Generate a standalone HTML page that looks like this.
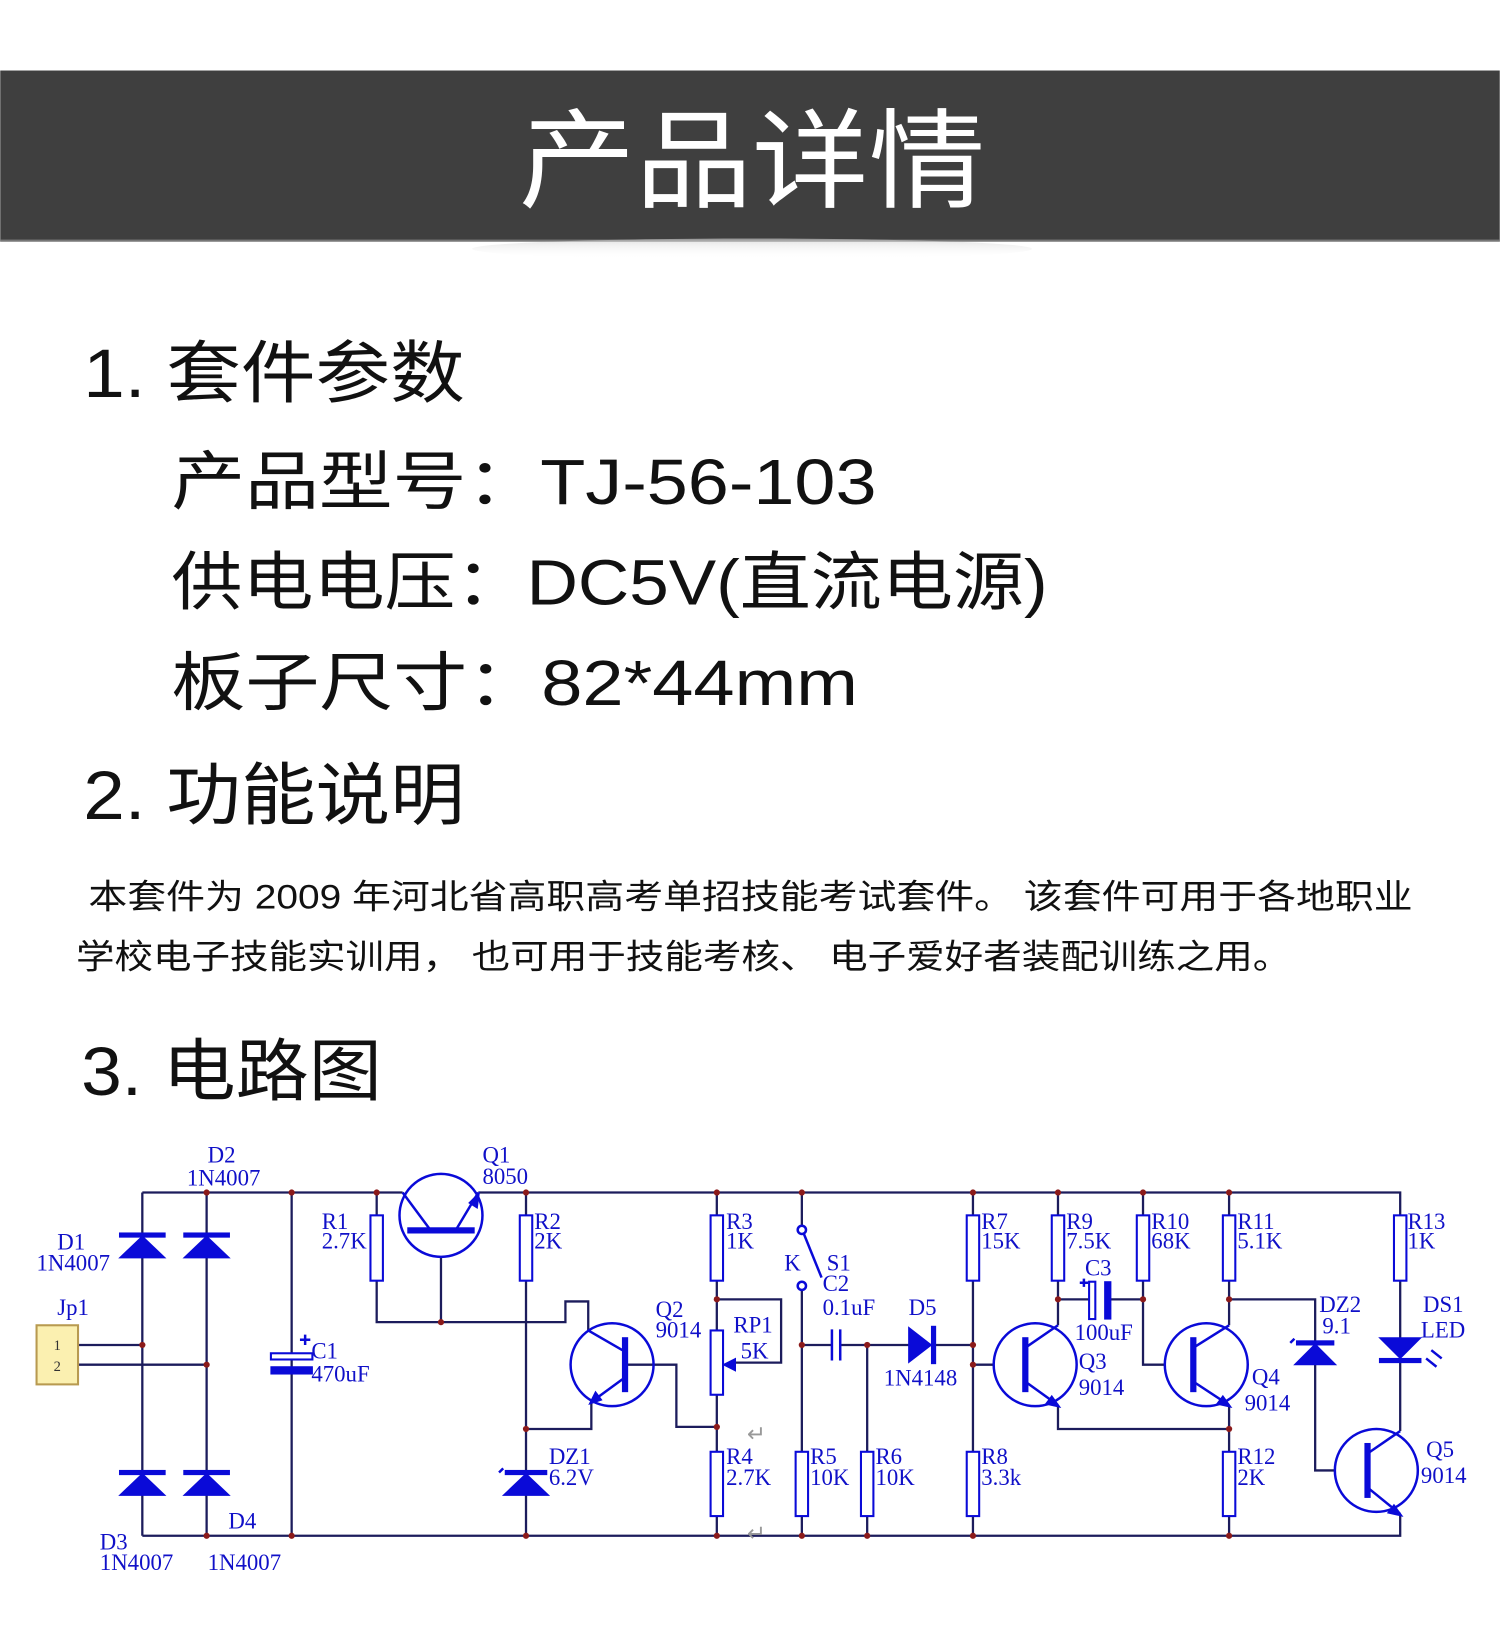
<!DOCTYPE html>
<html><head><meta charset="utf-8"><style>
html,body{margin:0;padding:0;background:#fff;}
svg{display:block;}
.cn{font-family:"Liberation Sans","Noto Sans CJK SC",sans-serif;}
.lb{font-family:"Liberation Serif",serif;font-size:22px;fill:#1010c8;}
.w{stroke:#1c1c5c;stroke-width:2.2;fill:none;}
.c{stroke:#0a0ad8;stroke-width:2.4;fill:none;}
.r{stroke:#0a0ad8;stroke-width:2;fill:#fff;}
.f{fill:#0a0ad8;stroke:#0a0ad8;}
.d{fill:#8b1a1a;}
</style></head><body>
<svg width="1500" height="1626" viewBox="0 0 1446 1568" xmlns="http://www.w3.org/2000/svg">
<defs>
<linearGradient id="sh" x1="0" y1="0" x2="0" y2="1"><stop offset="0" stop-color="#ccc"/><stop offset="1" stop-color="#fff" stop-opacity="0"/></linearGradient>
</defs>
<rect x="0" y="68" width="1446" height="165" fill="#3f3f3f"/>
<rect x="0" y="231" width="1446" height="2" fill="#777"/>
<ellipse cx="725" cy="240" rx="270" ry="10" fill="url(#sh)" opacity="0.6"/>
<text x="500" y="192" class="cn" font-size="104" fill="#fff" textLength="450" lengthAdjust="spacingAndGlyphs">产品详情</text>

<g class="cn" fill="#111">
<text x="80" y="383" font-size="66" textLength="368" lengthAdjust="spacingAndGlyphs">1. 套件参数</text>
<text x="165" y="486" font-size="62" textLength="680" lengthAdjust="spacingAndGlyphs">产品型号：TJ-56-103</text>
<text x="165" y="583" font-size="62" textLength="845" lengthAdjust="spacingAndGlyphs">供电电压：DC5V(直流电源)</text>
<text x="165" y="680" font-size="62" textLength="662" lengthAdjust="spacingAndGlyphs">板子尺寸：82*44mm</text>
<text x="80" y="790" font-size="66" textLength="368" lengthAdjust="spacingAndGlyphs">2. 功能说明</text>
<text x="85" y="876" font-size="33" textLength="1277" lengthAdjust="spacingAndGlyphs">本套件为 2009 年河北省高职高考单招技能考试套件。 该套件可用于各地职业</text>
<text x="73" y="934" font-size="33" textLength="1172" lengthAdjust="spacingAndGlyphs">学校电子技能实训用， 也可用于技能考核、 电子爱好者装配训练之用。</text>
<text x="78" y="1056" font-size="66" textLength="290" lengthAdjust="spacingAndGlyphs">3. 电路图</text>
</g>

<!-- wires -->
<g class="w">
<path d="M137 1150H388 M461 1150H1350V1172 M137 1481H1350V1460"/>
<path d="M137 1150V1481 M199 1150V1481 M281 1150V1481"/>
<path d="M75 1297H137 M75 1316H199"/>
<path d="M363 1150V1275H545V1255H567V1283 M425 1212V1275"/>
<path d="M507 1150V1481 M507 1378H570V1352"/>
<path d="M602 1316H652V1376H691 M691 1150V1481 M691 1253H753V1314H705"/>
<path d="M773 1150V1182 M773 1244V1481 M773 1297H802 M810 1297H836V1481 M836 1297H938 M938 1150V1481 M938 1316H958"/>
<path d="M1020 1150V1278 M1020 1253H1052 M1068 1253H1102 M1102 1150V1316H1123"/>
<path d="M1020 1355V1378H1185 M1185 1150V1278 M1185 1355V1481 M1185 1253H1268V1418H1288"/>
<path d="M1350 1172V1380"/>
</g>

<!-- resistors -->
<g class="r">
<rect x="357" y="1172" width="12" height="63"/>
<rect x="501" y="1172" width="12" height="63"/>
<rect x="685" y="1172" width="12" height="63"/>
<rect x="685" y="1283" width="12" height="62"/>
<rect x="685" y="1400" width="12" height="62"/>
<rect x="767" y="1400" width="12" height="62"/>
<rect x="830" y="1400" width="12" height="62"/>
<rect x="932" y="1172" width="12" height="63"/>
<rect x="932" y="1400" width="12" height="62"/>
<rect x="1014" y="1172" width="12" height="63"/>
<rect x="1096" y="1172" width="12" height="63"/>
<rect x="1179" y="1172" width="12" height="63"/>
<rect x="1179" y="1400" width="12" height="62"/>
<rect x="1344" y="1172" width="12" height="63"/>
</g>

<!-- JP1 -->
<rect x="35" y="1278" width="40" height="57" fill="#fbf0b0" stroke="#b89a50" stroke-width="2"/>
<text x="55" y="1302" font-family="Liberation Serif" font-size="14" text-anchor="middle" fill="#333">1</text>
<text x="55" y="1322" font-family="Liberation Serif" font-size="14" text-anchor="middle" fill="#333">2</text>

<!-- diodes -->
<g class="f">
<polygon points="115,1213 159,1213 137,1192"/><rect x="115" y="1189" width="44" height="4"/>
<polygon points="177,1213 221,1213 199,1192"/><rect x="177" y="1189" width="44" height="4"/>
<polygon points="115,1442 159,1442 137,1421"/><rect x="115" y="1418" width="44" height="4"/>
<polygon points="177,1442 221,1442 199,1421"/><rect x="177" y="1418" width="44" height="4"/>
<polygon points="485,1442 529,1442 507,1421"/><rect x="487" y="1418" width="40" height="4"/>
<polygon points="876,1280 876,1314 898,1297"/><rect x="898" y="1279" width="4" height="36"/>
<polygon points="1248,1316 1288,1316 1268,1296"/><rect x="1250" y="1293" width="36" height="4"/>
<polygon points="1330,1290 1370,1290 1350,1310"/><rect x="1330" y="1310" width="40" height="4"/>
<!-- caps -->
<rect x="261" y="1318" width="40" height="7"/>
<rect x="1065" y="1236" width="6" height="36"/>
</g>
<rect x="261" y="1305" width="40" height="6" fill="#fff" stroke="#0a0ad8" stroke-width="2"/>
<rect x="1050" y="1236" width="6" height="36" fill="#fff" stroke="#0a0ad8" stroke-width="2"/>
<g class="c">
<path d="M802 1282V1312 M810 1282V1312"/>
<path d="M485 1416l-4 4 M1248 1291l-4 4"/>
<path d="M1375 1310l10 8 M1380 1302l10 8"/>
<path d="M294 1297v-10 M289 1292h10 M1045 1241v-8 M1041 1237h8"/>
<circle cx="773" cy="1186" r="4" fill="#fff"/>
<circle cx="773" cy="1240" r="4" fill="#fff"/>
<path d="M775 1190L792 1232"/>
</g>
<!-- RP1 wiper arrow -->
<polygon points="697,1316 709,1310 709,1322" class="f"/>

<!-- transistors -->
<g class="c">
<circle cx="425" cy="1172" r="40"/>
<path d="M388 1150L414 1185 M440 1185L461 1150"/>
<circle cx="590" cy="1316" r="40"/>
<path d="M567 1283L600 1302 M600 1330L570 1352"/>
<circle cx="998" cy="1316" r="40"/>
<path d="M988 1300L1020 1278 M988 1332L1020 1355"/>
<circle cx="1163" cy="1316" r="40"/>
<path d="M1150 1300L1185 1278 M1150 1332L1185 1355"/>
<circle cx="1327" cy="1418" r="40"/>
<path d="M1318 1402L1350 1380 M1318 1434L1350 1460"/>
</g>
<g class="f">
<rect x="393" y="1184" width="64" height="5"/>
<rect x="600" y="1290" width="5" height="52"/>
<rect x="986" y="1290" width="5" height="52"/>
<rect x="1148" y="1290" width="5" height="52"/>
<rect x="1316" y="1392" width="5" height="52"/>
<polygon points="462,1150 452,1160 460,1165"/>
<polygon points="568,1354 574,1342 580,1350"/>
<polygon points="1022,1357 1008,1354 1014,1346"/>
<polygon points="1187,1357 1173,1354 1179,1346"/>
<polygon points="1352,1462 1338,1459 1344,1451"/>
</g>

<!-- dots -->
<g class="d">
<circle cx="199" cy="1150" r="3"/><circle cx="281" cy="1150" r="3"/><circle cx="363" cy="1150" r="3"/><circle cx="507" cy="1150" r="3"/><circle cx="691" cy="1150" r="3"/><circle cx="773" cy="1150" r="3"/><circle cx="938" cy="1150" r="3"/><circle cx="1020" cy="1150" r="3"/><circle cx="1102" cy="1150" r="3"/><circle cx="1185" cy="1150" r="3"/>
<circle cx="137" cy="1297" r="3"/><circle cx="199" cy="1316" r="3"/><circle cx="425" cy="1275" r="3"/><circle cx="507" cy="1378" r="3"/><circle cx="691" cy="1253" r="3"/><circle cx="691" cy="1376" r="3"/><circle cx="773" cy="1297" r="3"/><circle cx="836" cy="1297" r="3"/><circle cx="938" cy="1297" r="3"/><circle cx="938" cy="1316" r="3"/><circle cx="1020" cy="1253" r="3"/><circle cx="1102" cy="1253" r="3"/><circle cx="1185" cy="1253" r="3"/><circle cx="1185" cy="1378" r="3"/>
<circle cx="199" cy="1481" r="3"/><circle cx="281" cy="1481" r="3"/><circle cx="507" cy="1481" r="3"/><circle cx="691" cy="1481" r="3"/><circle cx="773" cy="1481" r="3"/><circle cx="836" cy="1481" r="3"/><circle cx="938" cy="1481" r="3"/><circle cx="1185" cy="1481" r="3"/>
</g>

<text x="720" y="1390" font-size="22" fill="#999" font-family="DejaVu Sans">↵</text>
<text x="720" y="1486" font-size="22" fill="#999" font-family="DejaVu Sans">↵</text>

<!-- labels -->
<g class="lb">
<text x="200" y="1121">D2</text><text x="180" y="1143">1N4007</text>
<text x="55" y="1205">D1</text><text x="35" y="1225">1N4007</text>
<text x="55" y="1268">Jp1</text>
<text x="300" y="1310">C1</text><text x="300" y="1332">470uF</text>
<text x="310" y="1185">R1</text><text x="310" y="1204">2.7K</text>
<text x="465" y="1121">Q1</text><text x="465" y="1142">8050</text>
<text x="515" y="1185">R2</text><text x="515" y="1204">2K</text>
<text x="632" y="1270">Q2</text><text x="632" y="1290">9014</text>
<text x="529" y="1412">DZ1</text><text x="529" y="1432">6.2V</text>
<text x="700" y="1185">R3</text><text x="700" y="1204">1K</text>
<text x="707" y="1285">RP1</text><text x="714" y="1310">5K</text>
<text x="700" y="1412">R4</text><text x="700" y="1432">2.7K</text>
<text x="96" y="1494">D3</text><text x="96" y="1514">1N4007</text>
<text x="220" y="1474">D4</text><text x="200" y="1514">1N4007</text>
<text x="756" y="1225">K</text><text x="797" y="1225">S1</text>
<text x="793" y="1245">C2</text><text x="793" y="1268">0.1uF</text>
<text x="876" y="1268">D5</text><text x="852" y="1336">1N4148</text>
<text x="781" y="1412">R5</text><text x="781" y="1432">10K</text>
<text x="844" y="1412">R6</text><text x="844" y="1432">10K</text>
<text x="946" y="1185">R7</text><text x="946" y="1204">15K</text>
<text x="946" y="1412">R8</text><text x="946" y="1432">3.3k</text>
<text x="1028" y="1185">R9</text><text x="1028" y="1204">7.5K</text>
<text x="1046" y="1230">C3</text><text x="1036" y="1292">100uF</text>
<text x="1040" y="1320">Q3</text><text x="1040" y="1345">9014</text>
<text x="1110" y="1185">R10</text><text x="1110" y="1204">68K</text>
<text x="1193" y="1185">R11</text><text x="1193" y="1204">5.1K</text>
<text x="1207" y="1335">Q4</text><text x="1200" y="1360">9014</text>
<text x="1193" y="1412">R12</text><text x="1193" y="1432">2K</text>
<text x="1272" y="1265">DZ2</text><text x="1275" y="1286">9.1</text>
<text x="1357" y="1185">R13</text><text x="1357" y="1204">1K</text>
<text x="1372" y="1265">DS1</text><text x="1370" y="1290">LED</text>
<text x="1375" y="1405">Q5</text><text x="1370" y="1430">9014</text>
</g>
</svg>
</body></html>
